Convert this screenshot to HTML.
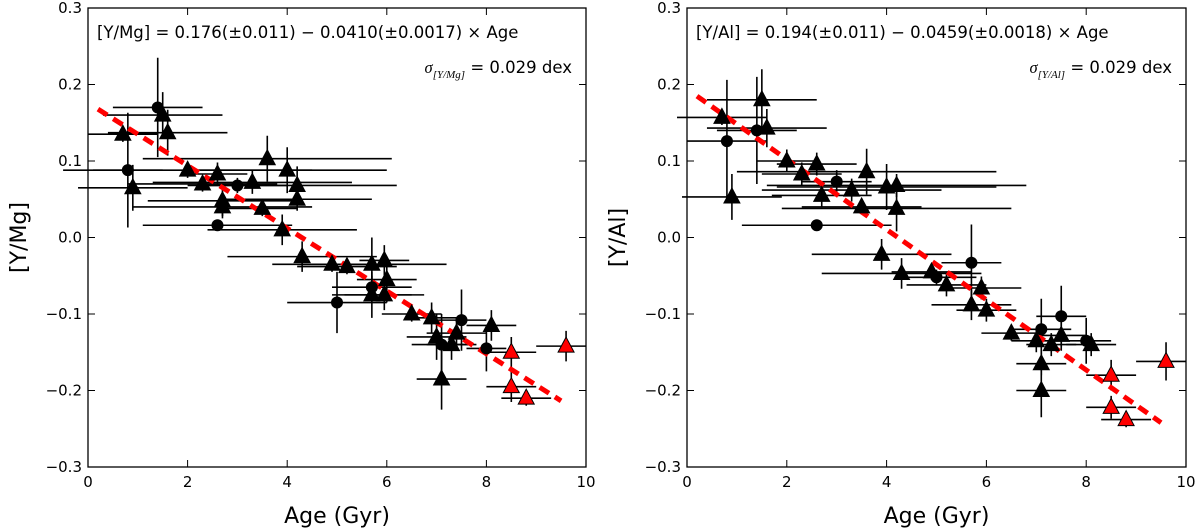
<!DOCTYPE html>
<html><head><meta charset="utf-8"><style>
body{margin:0;background:#fff;}
svg{display:block;font-family:"DejaVu Sans","Liberation Sans",sans-serif;}
</style></head><body>
<svg id="c" width="1200" height="528" viewBox="0 0 1200 528"></svg>
<script>
// Left panel data
const leftAge  =[0.7,0.8,0.9,1.4,1.5,1.6,2.0,2.3,2.6,2.7,2.7,2.6,3.0,3.3,3.5,3.6,3.9,4.0,4.2,4.2,4.3,4.9,5.0,5.2,5.7,5.7,5.7,5.95,6.0,5.95,6.5,6.9,7.0,7.1,7.3,7.1,7.5,7.4,8.0,8.1,8.5,8.5,8.8,9.6];
const leftVal  =[0.135,0.088,0.065,0.170,0.160,0.137,0.088,0.070,0.083,0.048,0.040,0.016,0.068,0.072,0.038,0.103,0.010,0.088,0.068,0.050,-0.025,-0.035,-0.085,-0.038,-0.035,-0.065,-0.075,-0.030,-0.055,-0.075,-0.100,-0.105,-0.130,-0.140,-0.140,-0.185,-0.108,-0.125,-0.145,-0.115,-0.150,-0.195,-0.210,-0.142];
const leftXerr =[0.7,0.7,1.1,0.9,1.2,1.2,2.5,1.5,0.6,1.5,1.8,1.5,1.0,2.0,0.7,2.5,1.5,2.0,2.0,1.5,1.5,1.2,1.0,1.0,1.5,0.8,0.8,0.5,0.6,0.8,0.6,0.5,0.6,0.6,0.5,0.5,0.5,0.6,0.4,0.5,0.5,0.5,0.5,0.6];
const leftYerr =[0.01,0.075,0.03,0.065,0.03,0.03,0.01,0.01,0.015,0.02,0.015,0.005,0.01,0.015,0.01,0.03,0.02,0.03,0.025,0.015,0.02,0.01,0.04,0.01,0.035,0.015,0.03,0.02,0.03,0.02,0.01,0.02,0.03,0.04,0.02,0.04,0.04,0.02,0.03,0.02,0.02,0.02,0.01,0.02];
const leftMark =["t","c","t","c","t","t","t","t","t","t","t","c","c","t","t","t","t","t","t","t","t","t","c","t","t","c","t","t","t","t","t","t","t","c","t","t","c","t","c","t","r","r","r","r"];
// Right panel data
const rightAge =[0.7,0.8,0.9,1.4,1.5,1.6,2.0,2.3,2.6,2.6,2.7,3.0,3.3,3.5,3.6,4.0,4.2,4.2,3.9,4.3,4.9,5.0,5.2,5.7,5.7,5.9,6.0,6.5,7.0,7.1,7.1,7.1,7.3,7.5,7.5,8.0,8.1,8.5,8.5,8.8,9.6];
const rightVal =[0.157,0.126,0.053,0.140,0.180,0.143,0.100,0.083,0.096,0.016,0.055,0.073,0.062,0.040,0.086,0.066,0.068,0.038,-0.022,-0.047,-0.045,-0.052,-0.062,-0.033,-0.088,-0.066,-0.095,-0.125,-0.135,-0.120,-0.165,-0.200,-0.140,-0.103,-0.128,-0.135,-0.140,-0.180,-0.222,-0.238,-0.162];
const rightXerr=[0.9,0.8,1.0,0.8,1.1,1.2,0.6,0.8,0.8,1.5,1.0,0.7,1.8,1.2,2.6,2.2,2.6,2.3,1.4,1.6,0.8,0.8,0.8,0.6,0.8,0.8,0.6,0.6,0.5,0.6,0.5,0.5,0.5,0.5,0.5,0.5,0.5,0.5,0.5,0.5,0.6];
const rightYerr=[0.01,0.08,0.03,0.07,0.04,0.025,0.015,0.015,0.015,0.005,0.015,0.015,0.015,0.01,0.03,0.03,0.015,0.03,0.02,0.02,0.01,0.01,0.015,0.05,0.02,0.015,0.015,0.01,0.015,0.04,0.015,0.035,0.015,0.04,0.02,0.03,0.015,0.02,0.015,0.01,0.025];
const rightMark=["t","c","t","c","t","t","t","t","t","c","t","c","t","t","t","t","t","t","t","t","t","c","t","c","t","t","t","t","t","c","t","t","t","c","t","c","t","r","r","r","r"];
const xTicks=[0,2,4,6,8,10];
const yTicks=[-0.3,-0.2,-0.1,0.0,0.1,0.2,0.3];
const leftFit=[0.176,-0.0410];
const rightFit=[0.194,-0.0459];

const NS="http://www.w3.org/2000/svg";
const svg=document.getElementById('c');
function mk(tag,attrs,parent){const e=document.createElementNS(NS,tag);for(const k in attrs)e.setAttribute(k,attrs[k]);(parent||svg).appendChild(e);return e;}

function panel(x0,x1,age,val,xe,ye,marks,fit,ylabel,eq,sig,name){
  const y0=8,y1=467;
  const g=mk('g',{});
  
  
  const X=v=>x0+(v-0)/10*(x1-x0);
  const Y=v=>y1-(v+0.3)/0.6*(y1-y0);
  for(let i=0;i<age.length;i++){
    const p=mk('path',{d:`M${X(age[i]-xe[i])},${Y(val[i])}H${X(Math.min(10,age[i]+xe[i]))}M${X(age[i])},${Y(val[i]-ye[i])}V${Y(val[i]+ye[i])}`,stroke:'#000','stroke-width':1.6,fill:'none'},g);
    
    
  }
  const fl=mk('line',{x1:X(0.2),y1:Y(fit[0]+fit[1]*0.2),x2:X(9.5),y2:Y(fit[0]+fit[1]*9.5),stroke:'#f00','stroke-width':5,'stroke-dasharray':'11,7'},g);
  
  
  for(let i=0;i<age.length;i++){
    const cx=X(age[i]),cy=Y(val[i]);const m=marks[i]||'t';let e;
    if(m==='c'){e=mk('circle',{cx:cx,cy:cy,r:6,fill:'#000'},g);}
    else{e=mk('polygon',{points:`${cx},${cy-9} ${cx-8},${cy+6} ${cx+8},${cy+6}`,fill:m==='r'?'#f00':'#000',stroke:'#000','stroke-width':1},g);}
    
    
  }
  const fr=mk('rect',{x:x0,y:y0,width:x1-x0,height:y1-y0,fill:'none',stroke:'#000','stroke-width':1.3},g);
  
  
  xTicks.forEach(t=>{
    mk('path',{d:`M${X(t)},${y1}v-7M${X(t)},${y0}v7`,stroke:'#000','stroke-width':1},g);
    const tx=mk('text',{x:X(t),y:y1+20,'font-size':15,'text-anchor':'middle'},g);tx.textContent=t;
    
    
  });
  yTicks.forEach(t=>{
    mk('path',{d:`M${x0},${Y(t)}h7M${x1},${Y(t)}h-7`,stroke:'#000','stroke-width':1},g);
    const tx=mk('text',{x:x0-6,y:Y(t)+5,'font-size':15,'text-anchor':'end'},g);tx.textContent=t.toFixed(1).replace('-','\u2212');
    
    
  });
  const xl=mk('text',{x:(x0+x1)/2,y:523,'font-size':22,'text-anchor':'middle'},g);xl.textContent='Age (Gyr)';
  
  
  const yl=mk('text',{x:0,y:0,'font-size':22,'text-anchor':'middle',transform:`translate(${x0-62},${(y0+y1)/2}) rotate(-90)`},g);yl.textContent=ylabel;
  
  
  const e1=mk('text',{x:x0+9,y:38,'font-size':16.5},g);e1.textContent=eq;
  
  
  const e2=mk('text',{x:x1-14,y:73,'font-size':16.5,'text-anchor':'end'},g);
  e2.innerHTML=`<tspan font-family="Liberation Serif,serif" font-style="italic">σ</tspan><tspan font-family="Liberation Serif,serif" font-style="italic" font-size="11" dy="5">[${sig}]</tspan><tspan dy="-5"> = 0.029 dex</tspan>`;
  
  
}
panel(88,586,leftAge,leftVal,leftXerr,leftYerr,leftMark,leftFit,'[Y/Mg]','[Y/Mg] = 0.176(±0.011) − 0.0410(±0.0017) × Age','Y/Mg','left-panel');
panel(687,1186,rightAge,rightVal,rightXerr,rightYerr,rightMark,rightFit,'[Y/Al]','[Y/Al] = 0.194(±0.011) − 0.0459(±0.0018) × Age','Y/Al','right-panel');
</script>
</body></html>
